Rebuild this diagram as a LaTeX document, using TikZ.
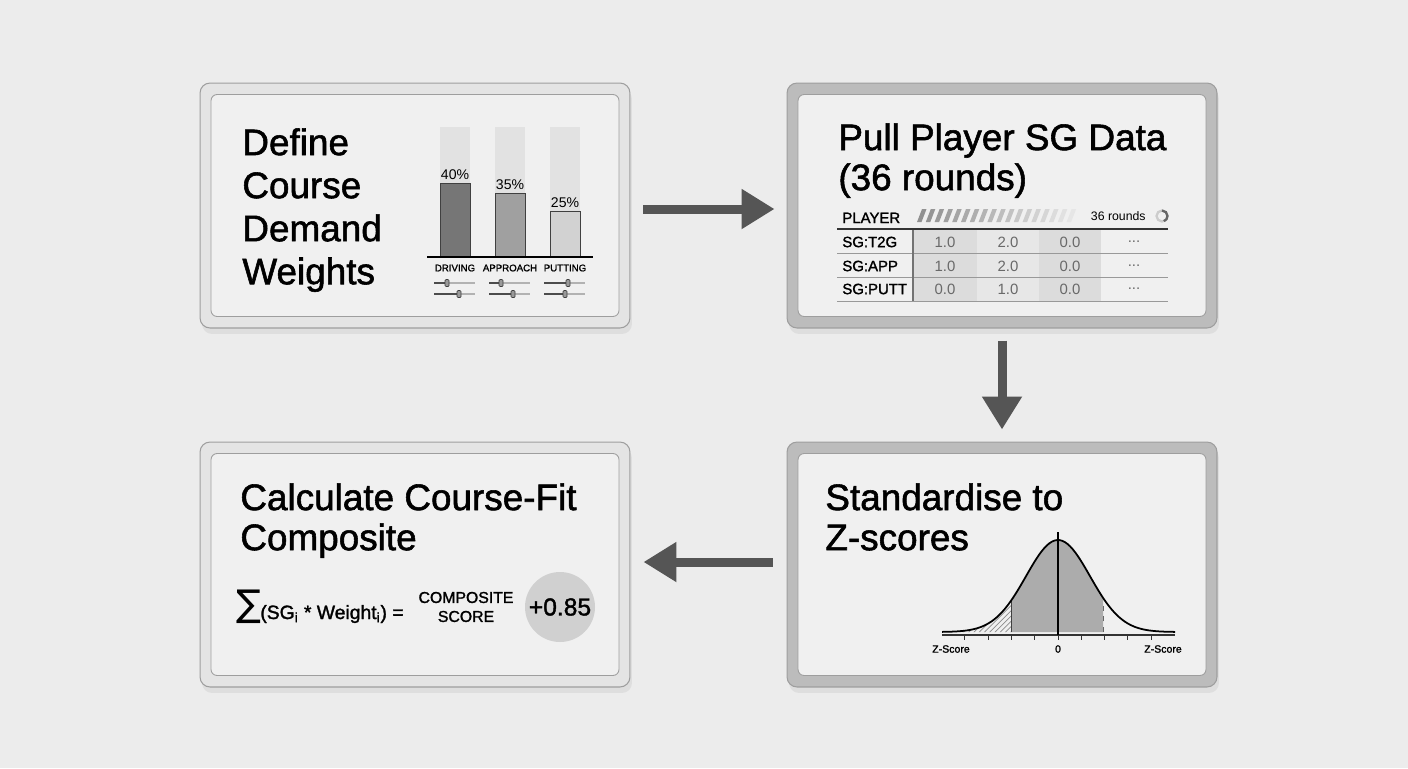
\documentclass[tikz,border=0pt]{standalone}
\usepackage{fontspec}
\setmainfont{Liberation Sans}
\newfontfamily\medfont{Liberation Sans}[FakeBold=1.5]
\newfontfamily\symfont{DejaVu Sans}
\usetikzlibrary{arrows.meta, shadows, patterns}
\definecolor{bgGray}{RGB}{236,236,236}
\definecolor{faceGray}{RGB}{240,240,240}
\definecolor{frameLight}{RGB}{228,228,228}
\definecolor{frameDark}{RGB}{188,188,188}
\definecolor{edgeGray}{RGB}{158,158,158}
\definecolor{arrowGray}{RGB}{85,85,85}
\definecolor{barDark}{RGB}{118,118,118}
\definecolor{barMid}{RGB}{160,160,160}
\definecolor{barLight}{RGB}{210,210,210}
\definecolor{barTrack}{RGB}{226,226,226}
\definecolor{cellDark}{RGB}{220,220,220}
\definecolor{cellMid}{RGB}{231,231,231}
\definecolor{valueGray}{RGB}{105,105,105}
\definecolor{bellGray}{RGB}{172,172,172}
\definecolor{badgeGray}{RGB}{208,208,208}

\begin{document}
\begin{tikzpicture}[x=0.02cm, y=-0.02cm,
    panelframe/.style={rounded corners=0.2cm, minimum width=8.6cm, minimum height=4.9cm, draw=edgeGray, line width=0.6pt,
        drop shadow={shadow xshift=0.04cm, shadow yshift=-0.12cm, opacity=0.12}},
    panelface/.style={rounded corners=0.12cm, minimum width=8.16cm, minimum height=4.44cm, fill=faceGray, draw=edgeGray, line width=0.5pt},
    steptitle/.style={anchor=north west, inner sep=0pt, align=left, font=\medfont\fontsize{21pt}{22.8pt}\selectfont},
    flow/.style={-{Triangle[length=0.66cm, width=0.76cm]}, arrowGray, line width=0.18cm},
    pct/.style={anchor=south, inner sep=0.5pt, font=\fontsize{8pt}{9pt}\selectfont},
    cat/.style={inner sep=0pt, font=\medfont\fontsize{5.5pt}{6pt}\selectfont},
    sliderTrack/.style={draw=black!30, line width=0.6pt},
    sliderFill/.style={draw=black!70, line width=0.8pt},
    knob/.style={rounded corners=0.02cm, fill=black!40, draw=black!75, line width=0.4pt},
    tablabel/.style={anchor=west, inner sep=0pt, font=\medfont\fontsize{8.5pt}{9pt}\selectfont},
    tabvalue/.style={inner sep=0pt, text=valueGray, font=\fontsize{8.5pt}{9pt}\selectfont},
    rowline/.style={draw=black!40, line width=0.5pt},
    zlabel/.style={inner sep=0pt, font=\medfont\fontsize{6pt}{7pt}\selectfont}
]
\useasboundingbox (0,0) rectangle (1408,768);
\fill[bgGray] (0,0) rectangle (1408,768);

% Panels
\node[panelframe, fill=frameLight] (define) at (415,205.5) {};
\node[panelface] (define-face) at (define) {};
\node[panelframe, fill=frameDark] (pull) at (1002,205.5) {};
\node[panelface] (pull-face) at (pull) {};
\node[panelframe, fill=frameDark] (zscore) at (1002,564.5) {};
\node[panelface] (zscore-face) at (zscore) {};
\node[panelframe, fill=frameLight] (composite) at (415,564.5) {};
\node[panelface] (composite-face) at (composite) {};

% Flow arrows
\draw[flow, shorten <=0.26cm, shorten >=0.24cm] ([yshift=-0.07cm]define.east) -- ([yshift=-0.07cm]pull.west);
\draw[flow, shorten <=0.24cm, shorten >=0.24cm] (pull) -- (zscore);
\draw[flow, shorten <=0.28cm, shorten >=0.26cm] ([yshift=0.05cm]zscore.west) -- ([yshift=0.05cm]composite.east);

% Titles
\node[steptitle, font=\medfont\fontsize{21pt}{24.5pt}\selectfont] (define-title) at (242,128) {Define\\Course\\Demand\\Weights};
\node[steptitle] (pull-title) at (838,123) {Pull Player SG Data\\(36 rounds)};
\node[steptitle] (zscore-title) at (825,483) {Standardise to\\Z-scores};
\node[steptitle] (composite-title) at (240,483) {Calculate Course-Fit\\Composite};

% Weight bars
\foreach \x/\top/\col/\pc/\lab in {440/183/barDark/40/DRIVING, 495/193/barMid/35/APPROACH, 550/211/barLight/25/PUTTING}{
    \fill[barTrack] (\x,127) rectangle (\x+30,257);
    \draw[fill=\col, draw=black!75, line width=0.5pt] (\x,\top) rectangle (\x+30,257);
    \node[pct] (pct-\lab) at (\x+15,\top-2) {\pc\%};
    \node[cat] (cat-\lab) at (\x+15,268) {\lab};
}
\draw[black, line width=0.6pt] (427,257) -- (593,257);

% Sliders
\foreach \x/\ka/\kb in {440/447/459, 495/501/513, 550/568/565}{
    \foreach \y/\k in {283/\ka, 294/\kb}{
        \draw[sliderTrack] (\x-6,\y) -- (\x+35,\y);
        \draw[sliderFill] (\x-6,\y) -- (\k,\y);
        \draw[knob] (\k-2,\y-3.5) rectangle (\k+2,\y+3.5);
    }
}

% SG table
\node[tablabel, anchor=base west] (player) at (842,223) {PLAYER};
\foreach \i [evaluate=\i as \op using 0.95-\i*0.05] in {0,...,17}{
    \fill[black!45, opacity=\op] (917+\i*8.8,222) -- ++(4.5,0) -- ++(5,-13) -- ++(-4.5,0) -- cycle;
}
\node[inner sep=0pt, anchor=east, font=\fontsize{7pt}{8pt}\selectfont] (rounds) at (1146,216) {36 rounds};
\draw[black!20, line width=1.3pt] (1162,216) circle[radius=0.11cm];
\draw[black!60, line width=1.3pt] (1162,210.5) arc[start angle=90, end angle=-70, radius=0.11cm];
\fill[cellDark] (913,229) rectangle (977,301);
\fill[cellMid] (977,229) rectangle (1039,301);
\fill[cellDark] (1039,229) rectangle (1101,301);
\foreach \y in {253,277,301}{
    \draw[rowline] (837,\y) -- (1168,\y);
}
\draw[black!55, line width=0.6pt] (913,229) -- (913,301);
\draw[black!80, line width=1pt] (837,229) -- (1168,229);
\foreach \y/\lab/\a/\b/\c in {242/SG:T2G/1.0/2.0/0.0, 266/SG:APP/1.0/2.0/0.0, 289/SG:PUTT/0.0/1.0/0.0}{
    \node[tablabel] at (842,\y) {\lab};
    \node[tabvalue] at (945,\y) {\a};
    \node[tabvalue] at (1008,\y) {\b};
    \node[tabvalue] at (1070,\y) {\c};
    \node[tabvalue] at (1134,\y) {...};
}

% Bell curve
\fill[bellGray] plot[domain=1011:1103, samples=40, smooth] (\x,{632-92*exp(-((\x-1058)^2)/2048)}) -- (1103,632) -- (1011,632) -- cycle;
\fill[pattern=north east lines, pattern color=black!45] plot[domain=962:1011, samples=20, smooth] (\x,{632-92*exp(-((\x-1058)^2)/2048)}) -- (1011,632) -- (962,632) -- cycle;
\draw[black!75, line width=0.5pt] (1011,632) -- (1011,{632-92*exp(-(47^2)/2048)});
\draw[black!60, line width=0.5pt, dashed] (1103,632) -- (1103,{632-92*exp(-(45^2)/2048)});
\draw[black, line width=1pt] plot[domain=942:1175, samples=90, smooth] (\x,{632-92*exp(-((\x-1058)^2)/2048)});
\draw[black!80, line width=0.8pt] (942,635) -- (1175,635);
\foreach \t in {-4,...,4}{
    \draw[black!80, line width=0.5pt] (1058+\t*23.3,635) -- ++(0,5);
}
\draw[black, line width=0.7pt] (1058,532) -- (1058,635);
\node[zlabel] (zleft) at (951,649) {Z-Score};
\node[zlabel] (zzero) at (1058,649) {0};
\node[zlabel] (zright) at (1163,649) {Z-Score};

% Composite formula
\node[inner sep=0pt, font=\symfont\fontsize{21pt}{22pt}\selectfont] (sigma) at (249,607) {∑};
\node[inner sep=0pt, anchor=base west, font=\medfont\fontsize{11pt}{12pt}\selectfont] (formula) at (260,619) {(SG\textsubscript{i} * Weight\textsubscript{i}) =};
\node[inner sep=0pt, align=center, font=\medfont\fontsize{9pt}{10.8pt}\selectfont] (score-label) at (466,607) {COMPOSITE\\SCORE};
\node[circle, fill=badgeGray, minimum size=1.4cm, inner sep=0pt, font=\medfont\fontsize{14pt}{15pt}\selectfont] (score) at (560,607) {+0.85};

\end{tikzpicture}
\end{document}
